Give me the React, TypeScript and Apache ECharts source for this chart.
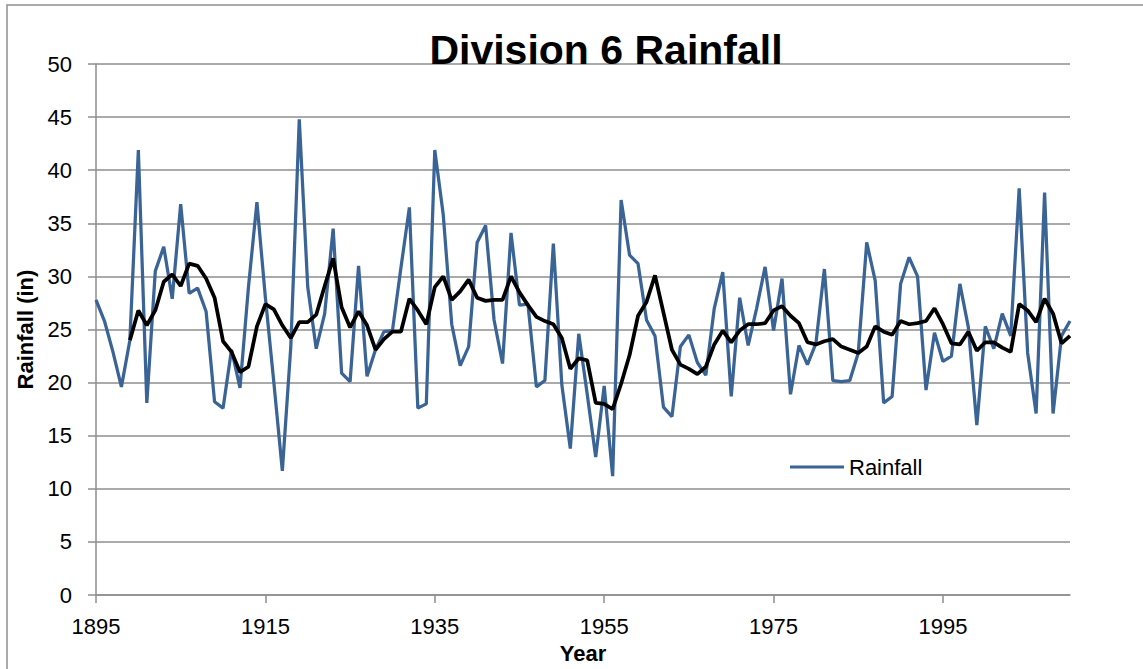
import React, { useEffect, useRef } from "react";
import * as echarts from "echarts";

const years: string[] = [];
for (let y = 1895; y <= 2010; y++) years.push(String(y));

const rainfall: number[] = [
  27.8, 25.8, 22.9, 19.6, 24.0, 41.9, 18.1, 30.5, 32.8, 27.9,
  36.8, 28.4, 28.9, 26.7, 18.2, 17.6, 23.1, 19.5, 29.0, 37.0,
  28.0, 20.0, 11.7, 23.4, 44.8, 29.0, 23.2, 26.5, 34.5, 20.9,
  20.1, 31.0, 20.6, 23.1, 24.8, 24.9, 30.8, 36.5, 17.6, 18.0,
  41.9, 35.8, 25.5, 21.6, 23.4, 33.2, 34.8, 25.9, 21.8, 34.1,
  27.3, 27.4, 19.6, 20.2, 33.1, 19.8, 13.8, 24.6, 18.9, 13.0,
  19.7, 11.2, 37.2, 32.0, 31.2, 25.9, 24.4, 17.7, 16.8, 23.4,
  24.5, 21.9, 20.7, 27.0, 30.4, 18.7, 28.0, 23.5, 27.0, 30.9,
  24.9, 29.8, 18.9, 23.5, 21.7, 23.7, 30.7, 20.2, 20.1, 20.2,
  22.8, 33.2, 29.6, 18.1, 18.7, 29.3, 31.8, 30.0, 19.3, 24.7,
  22.0, 22.5, 29.3, 25.2, 16.0, 25.3, 23.2, 26.5, 24.4, 38.3,
  22.8, 17.1, 37.9, 17.1, 24.4, 25.8,
];

const movingAvg: (number | null)[] = [
  null, null, null, null, 24.0, 26.8, 25.4, 26.8, 29.5, 30.2,
  29.1, 31.2, 31.0, 29.8, 28.0, 23.9, 22.9, 21.0, 21.5, 25.3,
  27.4, 26.9, 25.4, 24.2, 25.7, 25.7, 26.4, 29.1, 31.7, 27.1,
  25.2, 26.7, 25.4, 23.1, 24.1, 24.8, 24.8, 27.9, 26.8, 25.5,
  29.0, 30.0, 27.8, 28.6, 29.7, 28.0, 27.7, 27.8, 27.8, 30.0,
  28.5, 27.3, 26.2, 25.8, 25.5, 24.2, 21.3, 22.3, 22.1, 18.1,
  18.0, 17.5, 19.9, 22.6, 26.3, 27.6, 30.1, 26.6, 23.1, 21.7,
  21.3, 20.8, 21.5, 23.6, 24.9, 23.8, 24.9, 25.5, 25.5, 25.6,
  26.8, 27.2, 26.3, 25.6, 23.8, 23.6, 23.9, 24.1, 23.4, 23.1,
  22.8, 23.4, 25.3, 24.8, 24.5, 25.8, 25.5, 25.6, 25.8, 27.0,
  25.5, 23.7, 23.6, 24.8, 23.0, 23.8, 23.8, 23.3, 22.9, 27.4,
  26.8, 25.7, 27.9, 26.5, 23.7, 24.4,
];

const FONT = "'Liberation Sans', Arial, sans-serif";
const GRAY = "#8e8e8e";
const BLUE = "#3a6396";

export default function App() {
  const ref = useRef<HTMLDivElement>(null);
  useEffect(() => {
    if (!ref.current) return;
    const chart = echarts.init(ref.current, null, { renderer: "svg" });
    chart.setOption({
      animation: false,
      backgroundColor: "#ffffff",
      title: {
        text: "Division 6 Rainfall",
        left: 601,
        textAlign: "center",
        top: 24,
        textStyle: { fontFamily: FONT, fontWeight: "bold", fontSize: 41, color: "#000" },
      },
      graphic: [
        {
          type: "rect",
          shape: { x: 7, y: 5, width: 1200, height: 700 },
          style: { fill: "none", stroke: GRAY, lineWidth: 1.5 },
          silent: true,
          z: -1,
        },
      ],
      legend: {
        data: [{ name: "Rainfall", icon: "rect" }],
        left: 785,
        top: 451,
        itemWidth: 54,
        itemHeight: 3,
        itemStyle: { color: BLUE },
        textStyle: { fontFamily: FONT, fontSize: 22, color: "#000" },
      },
      grid: { left: 96, right: 73, top: 64, bottom: 73, containLabel: false },
      xAxis: {
        type: "category",
        data: years,
        boundaryGap: false,
        name: "Year",
        nameLocation: "middle",
        nameGap: 45,
        nameTextStyle: { fontFamily: FONT, fontWeight: "bold", fontSize: 22, color: "#000" },
        axisLine: { lineStyle: { color: GRAY, width: 1.5 } },
        axisTick: { show: true, interval: 19, length: 8, lineStyle: { color: GRAY, width: 1.5 } },
        axisLabel: { interval: 19, margin: 20, fontFamily: FONT, fontSize: 22, color: "#000" },
        splitLine: { show: false },
      },
      yAxis: {
        type: "value",
        min: 0,
        max: 50,
        interval: 5,
        name: "Rainfall (in)",
        nameLocation: "middle",
        nameGap: 59,
        nameTextStyle: { fontFamily: FONT, fontWeight: "bold", fontSize: 22, color: "#000" },
        axisLine: { show: true, lineStyle: { color: GRAY, width: 1.5 } },
        axisTick: { show: true, length: 8, lineStyle: { color: GRAY, width: 1.5 } },
        axisLabel: { margin: 24, fontFamily: FONT, fontSize: 22, color: "#000" },
        splitLine: { show: true, lineStyle: { color: GRAY, width: 1.5 } },
      },
      series: [
        {
          name: "Rainfall",
          type: "line",
          data: rainfall,
          symbol: "none",
          lineStyle: { color: BLUE, width: 3.25 },
          itemStyle: { color: BLUE },
          z: 2,
        },
        {
          name: "5 per. Mov. Avg. (Rainfall)",
          type: "line",
          data: movingAvg,
          symbol: "none",
          connectNulls: false,
          lineStyle: { color: "#000000", width: 3.75 },
          itemStyle: { color: "#000000" },
          z: 3,
        },
      ],
    });
    return () => chart.dispose();
  }, []);
  return (
    <div
      ref={ref}
      style={{ position: "fixed", left: 0, top: 0, width: 1143, height: 669, background: "#fff" }}
    />
  );
}
